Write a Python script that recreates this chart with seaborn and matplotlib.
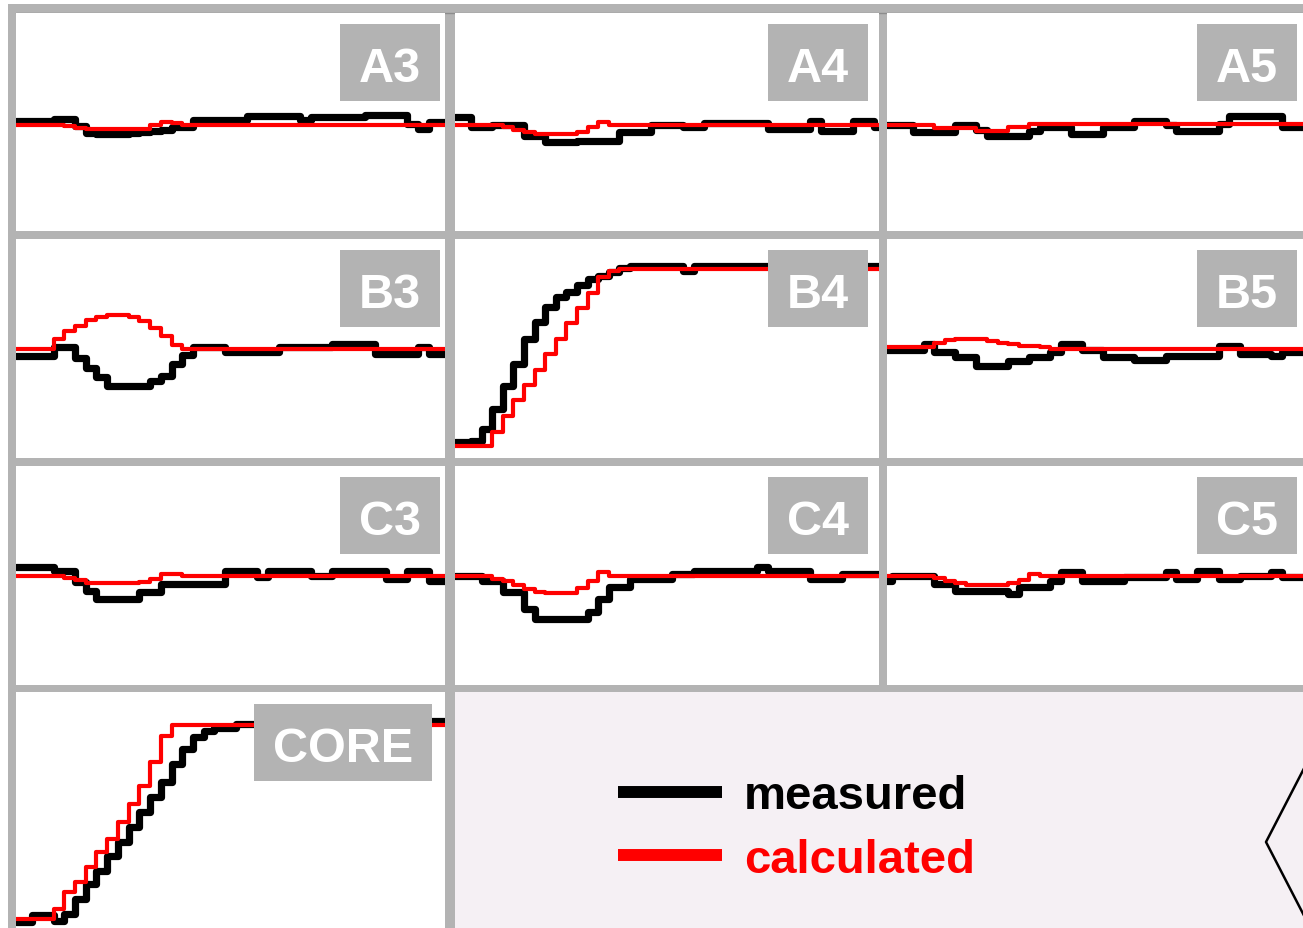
# %%
# ===== Importing Libraries =====

import numpy as np
import pandas as pd

import matplotlib
matplotlib.use('Agg')
import matplotlib.pyplot as plt
from matplotlib.patches import Rectangle
from matplotlib.lines import Line2D
import seaborn as sns

sns.set_theme(style='white')
plt.rcParams['font.family'] = ['Liberation Sans', 'DejaVu Sans']

# %%
# ===== Data: signal level in % of panel height, sampled every 2.5 % of time =====

time = np.linspace(0, 100, 41)

a3_measured = [50.6, 50.6, 50.6, 50.6, 51.4, 51.4, 48.0, 45.0, 44.5, 44.5,
               44.5, 44.8, 45.5, 46.0, 46.5, 47.7, 47.7, 51.1, 51.1, 51.1,
               51.1, 51.1, 52.6, 52.6, 52.6, 52.6, 52.6, 51.1, 52.2, 52.2,
               52.2, 52.2, 52.2, 53.2, 53.2, 53.2, 53.2, 49.0, 46.8, 50.0,
               50.0]
a3_calculated = [48.6, 48.6, 48.6, 48.6, 48.6, 48.0, 47.3, 47.0, 47.0, 47.0,
                 47.0, 47.0, 47.0, 48.5, 49.8, 49.5, 48.8, 48.6, 48.6, 48.6,
                 48.6, 48.6, 48.6, 48.6, 48.6, 48.6, 48.6, 48.6, 48.6, 48.6,
                 48.6, 48.6, 48.6, 48.6, 48.6, 48.6, 48.6, 48.6, 48.6, 48.6,
                 48.6]

a4_measured = [52.2, 52.2, 47.6, 47.6, 48.6, 48.6, 48.6, 43.7, 43.7, 40.7,
               40.7, 40.7, 41.4, 41.4, 41.4, 41.4, 45.3, 45.3, 45.3, 48.6,
               48.6, 48.6, 47.6, 47.6, 49.5, 49.5, 49.5, 49.5, 49.5, 49.5,
               46.8, 46.8, 46.8, 46.8, 50.6, 46.0, 46.0, 46.0, 50.6, 50.6,
               47.6]
a4_calculated = [48.6, 48.6, 48.6, 48.6, 48.6, 47.5, 46.3, 45.2, 44.5, 44.5,
                 44.5, 44.5, 45.5, 47.5, 49.9, 48.6, 48.6, 48.6, 48.6, 48.6,
                 48.6, 48.6, 48.6, 48.6, 48.6, 48.6, 48.6, 48.6, 48.6, 48.6,
                 48.6, 48.6, 48.6, 48.6, 48.6, 48.6, 48.6, 48.6, 48.6, 48.6,
                 48.6]

a5_measured = [48.6, 48.6, 48.6, 45.6, 45.6, 45.6, 45.6, 48.6, 48.6, 46.4,
               43.7, 43.7, 43.7, 43.7, 46.0, 47.6, 47.6, 47.6, 44.5, 44.5,
               44.5, 47.6, 47.6, 47.6, 50.6, 50.6, 50.6, 48.6, 46.0, 46.0,
               46.0, 46.0, 49.1, 52.9, 52.9, 52.9, 52.9, 52.9, 47.6, 47.6,
               47.6]
a5_calculated = [48.6, 48.6, 48.6, 48.6, 48.6, 47.2, 47.2, 47.2, 47.2, 46.0,
                 46.0, 46.0, 47.6, 47.6, 49.1, 49.1, 49.1, 49.1, 49.1, 49.1,
                 49.1, 49.1, 49.1, 49.1, 49.1, 49.1, 49.1, 49.1, 49.1, 49.1,
                 49.1, 49.1, 49.1, 49.1, 49.1, 49.1, 49.1, 49.1, 49.1, 49.1,
                 49.1]

b3_measured = [46.7, 46.7, 46.7, 46.7, 50.5, 50.5, 45.5, 41.0, 37.0, 33.0,
               33.0, 33.0, 33.0, 35.0, 37.5, 43.0, 47.0, 50.5, 50.5, 50.5,
               48.3, 48.3, 48.3, 48.3, 48.3, 50.5, 50.5, 50.5, 50.5, 50.5,
               52.1, 52.1, 52.1, 52.1, 47.5, 47.5, 47.5, 47.5, 50.5, 47.5,
               47.5]
b3_calculated = [49.8, 49.8, 49.8, 49.8, 54.5, 57.8, 60.5, 62.8, 64.4, 65.3,
                 65.3, 64.6, 62.5, 59.2, 55.5, 51.5, 49.8, 49.8, 49.8, 49.8,
                 49.8, 49.8, 49.8, 49.8, 49.8, 49.8, 49.8, 49.8, 49.8, 49.8,
                 49.8, 49.8, 49.8, 49.8, 49.8, 49.8, 49.8, 49.8, 49.8, 49.8,
                 49.8]

b4_measured = [7.2, 7.2, 7.9, 13.2, 22.4, 33.0, 42.9, 54.3, 62.0, 68.8,
               73.4, 75.9, 79.0, 81.7, 83.2, 84.8, 86.6, 87.8, 87.8, 87.8,
               87.8, 87.8, 85.5, 87.8, 87.8, 87.8, 87.8, 87.8, 87.8, 87.8,
               87.8, 87.8, 87.8, 87.8, 87.8, 87.8, 87.8, 87.8, 87.8, 87.8,
               87.8]
b4_calculated = [5.6, 5.6, 5.6, 5.6, 12.0, 19.2, 26.3, 33.4, 40.2, 47.3,
                 54.3, 61.5, 68.6, 75.4, 82.5, 85.5, 86.3, 86.3, 86.3, 86.3,
                 86.3, 86.3, 86.3, 86.3, 86.3, 86.3, 86.3, 86.3, 86.3, 86.3,
                 86.3, 86.3, 86.3, 86.3, 86.3, 86.3, 86.3, 86.3, 86.3, 86.3,
                 86.3]

b5_measured = [49.5, 49.5, 49.5, 49.5, 52.1, 48.3, 48.3, 46.0, 46.0, 42.1,
               42.1, 42.1, 44.4, 44.4, 46.0, 46.0, 48.3, 52.1, 52.1, 49.5,
               49.5, 46.0, 46.0, 46.0, 44.9, 44.9, 44.9, 46.7, 46.7, 46.7,
               46.7, 46.7, 51.0, 51.0, 47.5, 47.5, 47.5, 46.7, 48.3, 48.3,
               48.3]
b5_calculated = [50.5, 50.5, 50.5, 50.5, 50.5, 52.5, 53.8, 54.3, 54.3, 54.3,
                 53.5, 52.5, 52.1, 51.2, 51.2, 50.5, 49.8, 49.8, 49.8, 49.8,
                 49.8, 49.8, 49.8, 49.8, 49.8, 49.8, 49.8, 49.8, 49.8, 49.8,
                 49.8, 49.8, 49.8, 49.8, 49.8, 49.8, 49.8, 49.8, 49.8, 49.8,
                 49.8]

c3_measured = [53.7, 53.7, 53.7, 53.7, 52.2, 52.2, 47.0, 43.1, 39.3, 39.3,
               39.3, 39.3, 42.3, 42.3, 46.1, 46.1, 46.1, 46.1, 46.1, 46.1,
               52.2, 52.2, 52.2, 49.2, 52.2, 52.2, 52.2, 52.2, 49.9, 49.9,
               52.2, 52.2, 52.2, 52.2, 52.2, 48.4, 48.4, 52.2, 52.2, 47.6,
               47.6]
c3_calculated = [49.9, 49.9, 49.9, 49.9, 49.9, 48.8, 47.8, 46.6, 46.6, 46.6,
                 46.6, 46.6, 47.0, 48.5, 50.7, 50.7, 49.9, 49.9, 49.9, 49.9,
                 49.9, 49.9, 49.9, 49.9, 49.9, 49.9, 49.9, 49.9, 49.9, 49.9,
                 49.9, 49.9, 49.9, 49.9, 49.9, 49.9, 49.9, 49.9, 49.9, 49.9,
                 49.9]

c4_measured = [49.9, 49.9, 49.9, 47.6, 47.6, 42.3, 42.3, 34.7, 30.1, 30.1,
               30.1, 30.1, 30.1, 33.2, 39.3, 44.6, 44.6, 48.4, 48.4, 48.4,
               48.4, 50.7, 50.7, 52.2, 52.2, 52.2, 52.2, 52.2, 52.2, 53.7,
               52.2, 52.2, 52.2, 52.2, 48.4, 48.4, 48.4, 50.7, 50.7, 50.7,
               50.7]
c4_calculated = [49.9, 49.9, 49.9, 49.9, 48.6, 47.3, 45.8, 44.0, 42.5, 42.0,
                 42.0, 42.0, 44.5, 47.5, 51.5, 49.9, 49.9, 49.9, 49.9, 49.9,
                 49.9, 49.9, 49.9, 49.9, 49.9, 49.9, 49.9, 49.9, 49.9, 49.9,
                 49.9, 49.9, 49.9, 49.9, 49.9, 49.9, 49.9, 49.9, 49.9, 49.9,
                 49.9]

c5_measured = [47.6, 49.6, 49.6, 49.6, 49.6, 46.1, 46.1, 43.1, 43.1, 43.1,
               43.1, 43.1, 41.6, 44.6, 44.6, 44.6, 47.6, 51.5, 51.5, 47.6,
               47.6, 47.6, 47.6, 49.2, 49.2, 49.2, 49.2, 51.5, 48.4, 48.4,
               52.2, 52.2, 48.4, 48.4, 49.9, 49.9, 49.9, 51.5, 49.2, 49.2,
               49.2]
c5_calculated = [49.9, 49.9, 49.9, 49.9, 49.9, 48.9, 47.6, 46.6, 45.7, 45.7,
                 45.7, 45.7, 46.6, 48.0, 50.5, 49.9, 49.9, 49.9, 49.9, 49.9,
                 49.9, 49.9, 49.9, 49.9, 49.9, 49.9, 49.9, 49.9, 49.9, 49.9,
                 49.9, 49.9, 49.9, 49.9, 49.9, 49.9, 49.9, 49.9, 49.9, 49.9,
                 49.9]

core_measured = [2.4, 2.4, 5.5, 5.5, 3.1, 6.0, 12.3, 18.6, 24.3, 30.6,
                 36.3, 42.7, 49.0, 55.4, 61.7, 69.5, 75.8, 80.8, 83.6, 84.6,
                 84.6, 86.4, 86.4, 86.4, 86.4, 86.4, 86.4, 86.4, 86.4, 86.4,
                 86.4, 86.4, 86.4, 86.4, 86.4, 86.4, 86.4, 86.4, 86.4, 87.8,
                 87.8]
core_calculated = [3.8, 3.8, 3.8, 3.8, 8.1, 15.1, 19.3, 25.7, 32.1, 37.7,
                   44.8, 52.5, 60.3, 70.2, 81.5, 86.0, 86.0, 86.0, 86.0, 86.0,
                   86.0, 86.0, 86.0, 86.0, 86.0, 86.0, 86.0, 86.0, 86.0, 86.0,
                   86.0, 86.0, 86.0, 86.0, 86.0, 86.0, 86.0, 86.0, 86.0, 86.0,
                   86.0]

panel_names = ['A3', 'A4', 'A5', 'B3', 'B4', 'B5', 'C3', 'C4', 'C5', 'CORE']
measured = {'A3': a3_measured, 'A4': a4_measured, 'A5': a5_measured,
            'B3': b3_measured, 'B4': b4_measured, 'B5': b5_measured,
            'C3': c3_measured, 'C4': c4_measured, 'C5': c5_measured,
            'CORE': core_measured}
calculated = {'A3': a3_calculated, 'A4': a4_calculated, 'A5': a5_calculated,
              'B3': b3_calculated, 'B4': b4_calculated, 'B5': b5_calculated,
              'C3': c3_calculated, 'C4': c4_calculated, 'C5': c5_calculated,
              'CORE': core_calculated}

series_order = ['measured', 'calculated']
series_colors = {'measured': '#000000', 'calculated': '#ff0000'}
series_widths = {'measured': 5.2, 'calculated': 3.0}

# %%
# ===== Layout (pixels) =====

W, H = 1303, 929
FRAME = '#b3b3b3'


def fx(x):
    return x / W


def fy(y):
    return 1 - y / H


def px_rect(left, top, right, bottom):
    return [fx(left), fy(bottom), (right - left) / W, (bottom - top) / H]


col_edges = [(16, 445), (455, 879), (887, 1308)]
row_edges = [(14, 232), (240, 459), (467, 686)]
label_margin = [5, 11, 11]

fig = plt.figure(figsize=(W / 100, H / 100), dpi=100)
fig.patch.set_facecolor('white')

# gray grid frame behind the panels
fig.add_artist(Rectangle((fx(8), 0), 1, fy(5), transform=fig.transFigure,
                         facecolor=FRAME, edgecolor='none', zorder=-1))
fig.add_artist(Line2D([fx(16), 1], [fy(13.5), fy(13.5)], transform=fig.transFigure,
                      color='#8c8c8c', lw=1.0, zorder=-0.5))


def draw_panel(rect, name):
    ax = fig.add_axes(rect)
    df = pd.DataFrame({
        'time': np.concatenate([time, time]),
        'value': measured[name] + calculated[name],
        'series': ['measured'] * len(time) + ['calculated'] * len(time),
    })
    sns.lineplot(data=df, x='time', y='value', hue='series', size='series',
                 hue_order=series_order, size_order=series_order,
                 palette=series_colors, sizes=series_widths,
                 drawstyle='steps-mid', estimator=None, legend=False, ax=ax)
    ax.set(xlim=(0, 100), ylim=(0, 100), xticks=[], yticks=[], xlabel='', ylabel='')
    ax.set_facecolor('white')
    for spine in ax.spines.values():
        spine.set_visible(False)
    return ax


def draw_label(name, right, top, width, height=77):
    left = right - width
    fig.add_artist(Rectangle((fx(left), fy(top + height)), width / W, height / H,
                             transform=fig.transFigure, facecolor=FRAME,
                             edgecolor='none', zorder=2))
    fig.text(fx(left + width / 2), fy(top + 57), name, ha='center', va='baseline',
             color='white', fontsize=35, fontweight='bold', zorder=3)


# %%
# ===== Panels =====

for i, (top, bottom) in enumerate(row_edges):
    for j, (left, right) in enumerate(col_edges):
        name = panel_names[i * 3 + j]
        draw_panel(px_rect(left, top, right, bottom), name)
        draw_label(name, right - label_margin[j], top + 11, 100)

draw_panel(px_rect(16, 693, 445, 929), 'CORE')
draw_label('CORE', 432, 705, 178)

# %%
# ===== Legend area =====

ax_leg = fig.add_axes(px_rect(455, 693, 1320, 940))
ax_leg.set_facecolor('#f5f0f4')
ax_leg.set(xticks=[], yticks=[])
for spine in ax_leg.spines.values():
    spine.set_visible(False)

handles = [Line2D([], [], color=series_colors[s], lw=8.6, solid_capstyle='butt')
           for s in series_order]
ax_leg.legend(handles, series_order, loc='center left',
              bbox_to_anchor=(fx(618), fy(829)), bbox_transform=fig.transFigure,
              frameon=False, prop={'weight': 'bold', 'size': 34},
              labelcolor=[series_colors[s] for s in series_order],
              handlelength=2.2, handletextpad=0.47, labelspacing=0.42,
              borderpad=0, borderaxespad=0)

# partial hexagon outline at the right edge
fig.add_artist(Line2D([fx(1313), fx(1266), fx(1313)], [fy(752), fy(843), fy(934)],
                      transform=fig.transFigure, color='black', lw=1.8, zorder=4))

fig.savefig('out.png', dpi=100)
